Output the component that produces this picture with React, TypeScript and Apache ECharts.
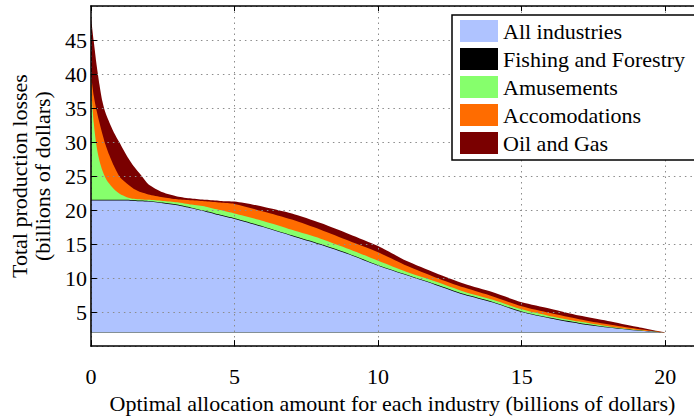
import React, { useEffect, useRef } from "react";
import * as echarts from "echarts";

// Allocation amount for each industry (billions of dollars)
const allocation = [
  0, 0.1, 0.2, 0.3, 0.4, 0.5, 0.6, 0.8, 1, 1.25, 1.5, 1.75, 2, 2.5, 3, 3.5, 4, 4.5, 5,
  6, 7, 8, 9, 10, 11, 12, 13, 14, 15, 16, 17, 18, 19, 20,
];

// Production losses for all industries (billions), filled up from the loss floor
const lossFloor = 2;
const allIndustries = [
  21.4, 21.4, 21.4, 21.4, 21.4, 21.4, 21.4, 21.4, 21.4, 21.4, 21.35, 21.3, 21.25, 21.0, 20.7, 20.25, 19.75, 19.2, 18.7,
  17.5, 16.2, 14.9, 13.45, 11.8, 10.4, 9.0, 7.55, 6.4, 5.0, 4.05, 3.3, 2.75, 2.3, 2.0,
];

// Additional losses layered on top, per industry (billions)
const fishingForestry = [
  0.1, 0.1, 0.1, 0.1, 0.1, 0.1, 0.1, 0.1, 0.1, 0.1, 0.1, 0.1, 0.1, 0.1, 0.1, 0.1, 0.1, 0.1, 0.1,
  0.1, 0.1, 0.1, 0.1, 0.1, 0.1, 0.1, 0.1, 0.1, 0.1, 0.1, 0.1, 0.05, 0.02, 0,
];
const amusements = [
  17.0, 11.3, 7.8, 5.7, 4.3, 3.3, 2.6, 1.6, 0.9, 0.4, 0.2, 0.15, 0.15, 0.25, 0.35, 0.45, 0.65, 0.7, 0.7,
  0.8, 0.8, 0.8, 0.7, 0.65, 0.4, 0.4, 0.35, 0.3, 0.3, 0.25, 0.2, 0.12, 0.06, 0,
];
const accomodations = [
  1.6, 4.0, 5.3, 5.6, 5.4, 4.9, 4.4, 3.4, 2.5, 2.0, 1.45, 1.05, 0.8, 0.55, 0.45, 0.65, 0.8, 1.1, 1.4,
  1.4, 1.5, 1.3, 1.2, 1.25, 0.9, 0.6, 0.6, 0.5, 0.45, 0.45, 0.35, 0.28, 0.17, 0,
];
const oilAndGas = [
  8.4, 8.0, 6.7, 5.6, 4.8, 4.7, 4.8, 4.9, 5.0, 4.1, 3.3, 2.5, 1.5, 0.7, 0.4, 0.25, 0.2, 0.25, 0.35,
  0.7, 0.9, 1.0, 1.0, 0.9, 0.7, 0.65, 0.55, 0.6, 0.6, 0.65, 0.55, 0.5, 0.3, 0,
];

const industryNames = ["All industries", "Fishing and Forestry", "Amusements", "Accomodations", "Oil and Gas"];
const industryColors = ["#afc3ff", "#000000", "#86ff6c", "#ff6c00", "#7a0000"];

const xTitle = "Optimal allocation amount for each industry (billions of dollars)";
const yTitle = "Total production losses\n(billions of dollars)";

export default function App() {
  const ref = useRef<HTMLDivElement>(null);

  useEffect(() => {
    if (!ref.current) return;
    const chart = echarts.init(ref.current, null, { renderer: "svg" });
    const font = "Liberation Serif";
    const fontSize = 22;

    // Running totals: each layer's upper edge is the previous edge plus its own losses
    const layers = [allIndustries, fishingForestry, amusements, accomodations, oilAndGas];
    const edges: number[][] = [];
    layers.forEach((vals, li) => {
      edges.push(vals.map((v, i) => (li === 0 ? v : edges[li - 1][i] + v)));
    });

    // The outermost layer sits lowest; each inner layer covers the part below it
    const series = layers.map((_, li) => ({
      name: industryNames[li],
      type: "line",
      data: allocation.map((x, i) => [x, +edges[li][i].toFixed(3)]),
      symbol: "none",
      showSymbol: false,
      smooth: 0.25,
      lineStyle: { width: 0 },
      itemStyle: { color: industryColors[li] },
      areaStyle: { color: industryColors[li], opacity: 1, origin: lossFloor },
      emphasis: { disabled: true },
      silent: true,
      z: 10 - li,
    }));

    const gridLine = { show: true, lineStyle: { color: "#8c8c8c", type: [1.5, 4], width: 1 } };
    const labelText = { color: "#000", fontFamily: font, fontSize };

    chart.setOption({
      animation: false,
      backgroundColor: "#ffffff",
      textStyle: { fontFamily: font, fontSize },
      grid: { left: 90, top: 6, width: 614.25, height: 359.5 },
      legend: {
        data: industryNames,
        orient: "vertical",
        left: 452,
        top: 15,
        padding: [5, 60, 6, 8],
        itemWidth: 38,
        itemHeight: 22,
        itemGap: 6,
        icon: "rect",
        borderColor: "#000",
        borderWidth: 1.5,
        backgroundColor: "#fff",
        textStyle: { ...labelText },
        z: 20,
      },
      xAxis: [
        {
          type: "value",
          min: 0,
          max: 21,
          interval: 5,
          position: "bottom",
          axisLine: { show: true, lineStyle: { color: "#000", width: 1.5 } },
          axisTick: { show: true, inside: true, length: 6, lineStyle: { color: "#000", width: 1 } },
          axisLabel: { ...labelText, margin: 19, showMaxLabel: false },
          splitLine: gridLine,
          name: xTitle,
          nameLocation: "middle",
          nameGap: 43,
          nameTextStyle: { ...labelText },
          z: 15,
        },
        {
          type: "value",
          min: 0,
          max: 21,
          interval: 5,
          position: "top",
          axisLine: { show: true, lineStyle: { color: "#000", width: 1.5 } },
          axisTick: { show: true, inside: true, length: 5, lineStyle: { color: "#000", width: 1 } },
          axisLabel: { show: false },
          splitLine: { show: false },
          z: 15,
        },
      ],
      yAxis: {
        type: "value",
        min: 0,
        max: 50,
        interval: 5,
        axisLine: { show: true, lineStyle: { color: "#000", width: 1.5 } },
        axisTick: { show: true, inside: true, length: 6, lineStyle: { color: "#000", width: 1 } },
        axisLabel: { ...labelText, margin: 4, showMinLabel: false, showMaxLabel: false },
        splitLine: gridLine,
        name: yTitle,
        nameLocation: "middle",
        nameRotate: 90,
        nameGap: 35,
        nameTextStyle: { ...labelText, lineHeight: 23, align: "center" },
        z: 15,
      },
      series,
    });

    return () => chart.dispose();
  }, []);

  return (
    <div
      ref={ref}
      style={{ position: "fixed", left: 0, top: 0, width: 694, height: 419 }}
    />
  );
}
